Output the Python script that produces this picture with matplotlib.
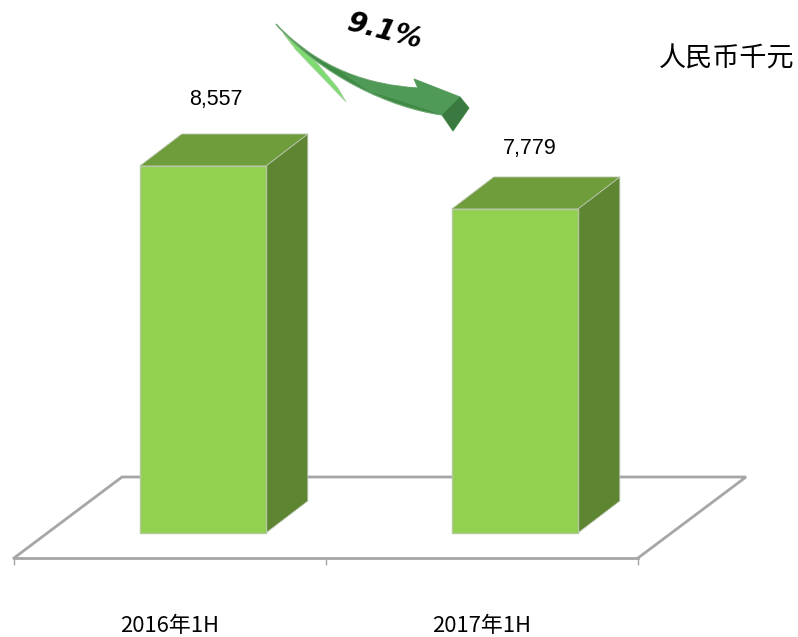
import matplotlib
matplotlib.use("Agg")
import matplotlib.pyplot as plt
from matplotlib.patches import PathPatch, Polygon
from matplotlib.path import Path

plt.rcParams["font.family"] = ["Noto Sans CJK SC", "DejaVu Sans"]

# data
periods = ["2016年1H", "2017年1H"]
revenue = [8557, 7779]
revenue_labels = ["8,557", "7,779"]
change_label = "9.1%"
unit_label = "人民币千元"

W, H = 798, 637
FLOOR_COLOR = "#A6A6A6"
FRONT = "#92D050"
TOP = "#6F9D3C"
SIDE = "#5E8632"

# axis does not start at zero in the source, 1917 sits on the bar foot
base_value = 1917
px_per_value = 367 / (8557 - base_value)
px_per_cat = 312

fig = plt.figure(figsize=(W / 100, H / 100), dpi=100)

# main axes: the bottom spine is the front edge of the floor
left, right, bottom, top = 14, 638, 558, 100
ax = fig.add_axes([left / W, 1 - bottom / H, (right - left) / W, (bottom - top) / H])
ax.set_xlim(-0.5, 1.5)
ymin = base_value - (bottom - 533) / px_per_value
ymax = ymin + (bottom - top) / px_per_value
ax.set_ylim(ymin, ymax)
ax.patch.set_visible(False)
for s in ["left", "right", "top"]:
    ax.spines[s].set_visible(False)
ax.spines["bottom"].set_color(FLOOR_COLOR)
ax.spines["bottom"].set_linewidth(2)
ax.set_yticks([])
ax.set_xticks([-0.5, 0.5, 1.5])
ax.set_xticklabels([])
ax.tick_params(axis="x", which="major", length=5, width=1, color=FLOOR_COLOR)
ax.set_xticks([0, 1], minor=True)
ax.set_xticklabels(periods, minor=True, fontsize=15.8, color="black")
ax.tick_params(axis="x", which="minor", length=0, pad=41)

# floor: the three edges not covered by the spine
floor_dx = 108 / px_per_cat
floor_dy = 81 / px_per_value
ax.plot([-0.5, -0.5 + floor_dx, 1.5 + floor_dx, 1.5],
        [ymin, ymin + floor_dy, ymin + floor_dy, ymin],
        color=FLOOR_COLOR, lw=2, clip_on=False, zorder=1, solid_joinstyle="miter")

# 3D bars
bar_shift = 32.8 / px_per_cat
bar_width = 126 / px_per_cat
depth_x = 42 / px_per_cat
depth_y = 32 / px_per_value
label_lift = [67, 61]
label_right = [13, 15]

for i, value in enumerate(revenue):
    x0 = i + bar_shift - bar_width / 2
    x1 = x0 + bar_width
    side = [(x1, base_value), (x1 + depth_x, base_value + depth_y),
            (x1 + depth_x, value + depth_y), (x1, value)]
    roof = [(x0, value), (x0 + depth_x, value + depth_y),
            (x1 + depth_x, value + depth_y), (x1, value)]
    ax.add_patch(Polygon(side, facecolor=SIDE, edgecolor="#B9C4AC", lw=0.6,
                         clip_on=False, zorder=2))
    ax.add_patch(Polygon(roof, facecolor=TOP, edgecolor="#B9C4AC", lw=0.6,
                         clip_on=False, zorder=2))
    ax.bar(i + bar_shift, value - base_value, width=bar_width, bottom=base_value,
           color=FRONT, edgecolor="#B5C9A0", linewidth=1, zorder=3, clip_on=False)
    ax.annotate(revenue_labels[i], (i + bar_shift, value),
                xytext=(label_right[i] * 0.72, label_lift[i] * 0.72), textcoords="offset points",
                ha="center", va="center", fontsize=15.5, family="Liberation Sans",
                annotation_clip=False)

# overlay in pixels for the curved arrow and free text
over = fig.add_axes([0, 0, 1, 1])
over.set_xlim(0, W)
over.set_ylim(H, 0)
over.axis("off")

C3, C4, L = Path.CURVE3, Path.CURVE4, Path.LINETO
sliver = Path([(283, 33), (296, 50), (346, 102), (338, 88), (306, 50), (283, 33)],
              [Path.MOVETO, L, L, L, L, Path.CLOSEPOLY])
over.add_patch(PathPatch(sliver, facecolor="#7FDC72", edgecolor="#A9CFA5", lw=0.5))

body = Path([(276, 24), (320, 70), (370, 85), (418, 88), (414, 79), (460, 97),
             (469, 108), (453, 131), (442, 115), (390, 108), (320, 75), (276, 24)],
            [Path.MOVETO, C4, C4, C4, L, L, L, L, L, C4, C4, C4])
over.add_patch(PathPatch(body, facecolor="#3F8A45", edgecolor="#6FA873", lw=0.8))

# lighter upper band toward the arrow head
band = Path([(340, 72), (380, 87), (418, 88), (414, 79), (460, 97), (442, 115),
             (400, 100), (370, 92), (340, 72)],
            [Path.MOVETO, C3, C3, L, L, L, C3, C3, L])
over.add_patch(PathPatch(band, facecolor="#4F9A57", edgecolor="none"))

over.add_patch(Polygon([(442, 115), (460, 97), (469, 108), (453, 131)],
                       facecolor="#3A7A40", edgecolor="none"))

over.text(385, 32, change_label, rotation=-14, ha="center", va="center", fontsize=20,
          fontweight="bold", style="italic", family="DejaVu Sans", color="black")
over.text(727, 59, unit_label, ha="center", va="center", fontsize=19.5, color="black")

plt.savefig("out.png", dpi=100)
